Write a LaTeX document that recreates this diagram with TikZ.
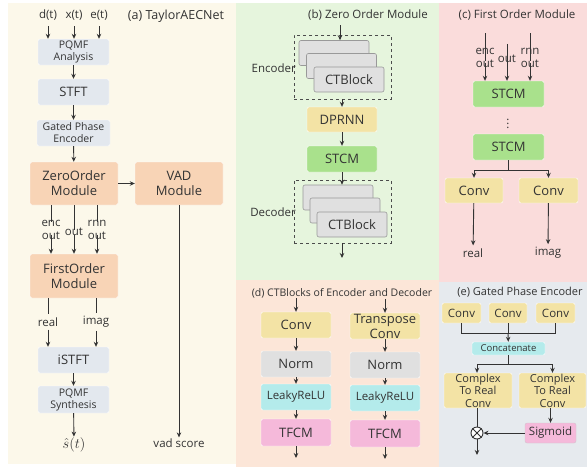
\documentclass[tikz,border=0pt]{standalone}
\usepackage{fontspec}
\setmainfont{Open Sans}
\usetikzlibrary{arrows.meta}
\definecolor{bgA}{HTML}{FCF8EA}
\definecolor{bgB}{HTML}{E6F5DD}
\definecolor{bgC}{HTML}{FADCDB}
\definecolor{bgD}{HTML}{FCE6D8}
\definecolor{bgE}{HTML}{E6EAEE}
\definecolor{boxA}{HTML}{E3E8EE}
\definecolor{boxO}{HTML}{F8D4B6}
\definecolor{boxY}{HTML}{F3E3A5}
\definecolor{boxG}{HTML}{A9E18C}
\definecolor{boxN}{HTML}{E0E0E0}
\definecolor{boxC}{HTML}{B4EBEB}
\definecolor{boxP}{HTML}{F5B9DA}
\definecolor{lin}{HTML}{333333}
\definecolor{txt}{HTML}{333333}
\tikzset{
  blk/.style={rounded corners=2pt, inner sep=0pt, align=center, text=txt, draw=white, line width=0.4pt},
  sz/.style 2 args={minimum width=#1, minimum height=#2},
  fL/.style={font=\fontsize{13}{15}\selectfont},
  fM/.style={font=\fontsize{11.5}{13}\selectfont},
  fS/.style={font=\fontsize{10.5}{12}\selectfont},
  lbl/.style={inner sep=1pt, align=center, text=txt},
  ttl/.style={inner sep=1pt, text=txt, font=\fontsize{11.5}{13}\selectfont},
  ctb/.style={blk, fL, fill=boxN, draw=black!40, line width=0.6pt, sz={70}{25}},
  grp/.style={draw=black!70, dashed, line width=0.8pt, inner sep=0pt},
}
\begin{document}
\begin{tikzpicture}[x=1pt, y=-1pt, >={Stealth[length=5pt, width=4.5pt]},
  arr/.style={->, draw=lin, line width=0.9pt},
  ln/.style={draw=lin, line width=0.9pt}]
\useasboundingbox (0,0) rectangle (587,467);
\fill[bgA] (8,3) rectangle (236,464);
\fill[bgB] (236,3) rectangle (439,280);
\fill[bgC] (439,3) rectangle (587,282);
\fill[bgD] (236,280) rectangle (439,467);
\fill[bgE] (439,282) rectangle (587,467);

% (a)
\node[lbl, fM] (dt) at (48,15) {d(t)};
\node[lbl, fM] (xt) at (74,15) {x(t)};
\node[lbl, fM] (et) at (99,15) {e(t)};
\node[ttl, font=\fontsize{12.5}{15}\selectfont] at (176,16) {(a) TaylorAECNet};
\node[blk, fS, fill=boxA, sz={71}{26}] (pqa) at (73.5,52) {PQMF\\Analysis};
\node[blk, fL, fill=boxA, sz={71}{26}] (stft) at (73.5,92) {STFT};
\node[blk, fS, fill=boxA, sz={73}{26}] (gpe) at (73.5,133) {Gated Phase\\Encoder};
\node[blk, fL, fill=boxO, sz={88}{43}] (zo) at (74,183.5) {ZeroOrder\\Module};
\node[blk, fL, fill=boxO, sz={88}{43}] (vad) at (179,183.5) {VAD\\Module};
\node[lbl, fM] (ae) at (51,230) {enc\\out};
\node[lbl, fM] (ao) at (74,232) {out};
\node[lbl, fM] (ar) at (97,230) {rnn\\out};
\node[blk, fL, fill=boxO, sz={88}{44}] (fo) at (74,276) {FirstOrder\\Module};
\node[lbl, fM] (re) at (48,322) {real};
\node[lbl, fM] (im) at (96,322) {imag};
\node[blk, fL, fill=boxA, sz={71}{26}] (istft) at (73.5,360) {iSTFT};
\node[blk, fS, fill=boxA, sz={71}{27}] (pqs) at (73.5,399.5) {PQMF\\Synthesis};
\node[lbl, font=\fontsize{14}{16}\selectfont] (sh) at (74,445) {$\hat{s}(t)$};
\node[lbl, fM] (vs) at (179,443) {vad score};
\draw[arr, shorten <=5pt] (dt.south) -- (dt.south |- pqa.north);
\draw[arr, shorten <=5pt] (xt.south) -- (xt.south |- pqa.north);
\draw[arr, shorten <=5pt] (et.south) -- (et.south |- pqa.north);
\draw[arr] (pqa) -- (stft);
\draw[arr] (stft) -- (gpe);
\draw[arr] (gpe) -- (zo);
\draw[arr] (zo) -- (vad);
\draw[ln, shorten >=-3pt] (zo.south -| ae) -- (ae.north);
\draw[ln, shorten >=-3pt] (zo.south -| ao) -- (ao.north);
\draw[ln, shorten >=-3pt] (zo.south -| ar) -- (ar.north);
\draw[arr, shorten <=-6pt] (ae.south) -- (ae.south |- fo.north);
\draw[arr, shorten <=-2pt] (ao.south) -- (ao.south |- fo.north);
\draw[arr, shorten <=-6pt] (ar.south) -- (ar.south |- fo.north);
\draw[ln, shorten >=2pt] (fo.south -| re) -- (re.north);
\draw[ln, shorten >=2pt] (fo.south -| im) -- (im.north);
\draw[arr, shorten <=2pt] (re.south) -- (re.south |- istft.north);
\draw[arr, shorten <=2pt] (im.south) -- (im.south |- istft.north);
\draw[arr] (istft) -- (pqs);
\draw[arr] (pqs) -- (sh);
\draw[arr] (vad) -- (vs);

% (b)
\node[ttl] at (368,15) {(b) Zero Order Module};
\node[grp, sz={97}{64}] (encg) at (342.5,67) {};
\node[ctb] (eb) at (334,53) {};
\node[ctb] (em) at (341.5,66) {};
\node[ctb] (ef) at (349,79.5) {CTBlock};
\node[lbl, fM, anchor=east] (encl) at (297,68) {Encoder};
\node[blk, fL, fill=boxY, sz={70}{25}] (dp) at (342,119.5) {DPRNN};
\node[blk, fL, fill=boxG, sz={70}{26}] (zst) at (342,159) {STCM};
\node[grp, sz={97}{63}] (decg) at (342.5,211.5) {};
\node[ctb] (db) at (338,197.5) {};
\node[ctb] (dm) at (345,210.5) {};
\node[ctb] (df) at (352,224.5) {CTBlock};
\node[lbl, fM, anchor=east] (decl) at (297,212) {Decoder};
\coordinate (zin) at (340,25);
\coordinate (zout) at (342,258);
\draw[arr] (zin) -- (zin |- eb.north);
\draw[arr] (encg.south -| dp) -- (dp.north);
\draw[arr] (dp) -- (zst);
\draw[arr] (zst) -- (zst |- db.north);
\draw[arr] (decg.south -| zout) -- (zout);

% (c)
\node[ttl] at (517,15) {(c) First Order Module};
\node[lbl, fM] (ce) at (485,58) {enc\\out};
\node[lbl, fM] (co) at (507,59) {out};
\node[lbl, fM] (cr) at (530,58) {rnn\\out};
\node[blk, fL, fill=boxG, sz={71}{26}] (cs1) at (508.5,94) {STCM};
\node[lbl, fM] (cdots) at (508,121) {$\vdots$};
\node[blk, fL, fill=boxG, sz={71}{26}] (cs2) at (508.5,147) {STCM};
\node[blk, fL, fill=boxY, sz={58}{25}] (cc1) at (474,190.5) {Conv};
\node[blk, fL, fill=boxY, sz={59}{25}] (cc2) at (548.5,190.5) {Conv};
\node[lbl, fM] (cre) at (473,253) {real};
\node[lbl, fM] (cim) at (548,253) {imag};
\coordinate (csplit) at (508,170);
\draw[ln, shorten <=-14pt, shorten >=-3pt] (ce.north) -- (ce.north |- ce.center);
\draw[ln, shorten <=-10pt, shorten >=-3pt] (co.north) -- (co.north |- co.center);
\draw[ln, shorten <=-14pt, shorten >=-3pt] (cr.north) -- (cr.north |- cr.center);
\draw[arr, shorten <=-6pt] (ce.south) -- (ce.south |- cs1.north);
\draw[arr, shorten <=-2pt] (co.south) -- (co.south |- cs1.north);
\draw[arr, shorten <=-6pt] (cr.south) -- (cr.south |- cs1.north);
\draw[ln] (cs2.south -| csplit) -- (csplit);
\draw[arr] (csplit) -| (cc1.north);
\draw[arr] (csplit) -| (cc2.north);
\draw[arr, shorten >=2pt] (cc1) -- (cre);
\draw[arr, shorten >=2pt] (cc2) -- (cim);

% (d)
\node[ttl, font=\fontsize{10.5}{12}\selectfont] at (342,293) {(d) CTBlocks of Encoder and Decoder};
\node[blk, fL, fill=boxY, sz={70}{26}] (dc1) at (296,325) {Conv};
\node[blk, fL, fill=boxN, sz={70}{26}] (dn1) at (296,364) {Norm};
\node[blk, fM, fill=boxC, sz={70}{26}] (dl1) at (296,397) {LeakyReLU};
\node[blk, fL, fill=boxP, sz={70}{27}] (dt1) at (296,432.5) {TFCM};
\node[blk, fL, fill=boxY, sz={70}{26}] (dc2) at (385,326) {Transpose\\Conv};
\node[blk, fL, fill=boxN, sz={70}{26}] (dn2) at (385,365) {Norm};
\node[blk, fM, fill=boxC, sz={70}{26}] (dl2) at (385,398) {LeakyReLU};
\node[blk, fL, fill=boxP, sz={70}{27}] (dt2) at (385,433.5) {TFCM};
\coordinate (din1) at (296,298);
\coordinate (din2) at (385,299);
\coordinate (dout1) at (296,458);
\coordinate (dout2) at (385,459);
\draw[arr] (din1) -- (dc1);
\draw[arr] (dc1) -- (dn1);
\draw[arr] (dn1) -- (dl1);
\draw[arr] (dl1) -- (dt1);
\draw[arr] (dt1) -- (dout1);
\draw[arr] (din2) -- (dc2);
\draw[arr] (dc2) -- (dn2);
\draw[arr] (dn2) -- (dl2);
\draw[arr] (dl2) -- (dt2);
\draw[arr] (dt2) -- (dout2);

% (e)
\node[ttl, font=\fontsize{11}{13}\selectfont] at (520,292) {(e) Gated Phase Encoder};
\node[blk, fM, fill=boxY, sz={39}{20}] (ec1) at (461.5,313) {Conv};
\node[blk, fM, fill=boxY, sz={38}{20}] (ec2) at (508,313) {Conv};
\node[blk, fM, fill=boxY, sz={39}{20}] (ec3) at (555.5,313) {Conv};
\node[blk, font=\fontsize{9.5}{10}\selectfont, fill=boxC, sz={73}{13}] (ecat) at (508.5,348.5) {Concatenate};
\node[blk, font=\fontsize{11}{12.5}\selectfont, fill=boxY, sz={68}{35}] (ecr1) at (478,390.5) {Complex\\To Real\\Conv};
\node[blk, font=\fontsize{11}{12.5}\selectfont, fill=boxY, sz={67}{35}] (ecr2) at (552.5,390.5) {Complex\\To Real\\Conv};
\node[circle, draw=lin, fill=white, line width=0.9pt, minimum size=12pt, inner sep=0pt] (emul) at (477,433) {};
\node[blk, fM, fill=boxP, draw=boxP!60!black!40, sz={51}{20}] (esig) at (550.5,433) {Sigmoid};
\coordinate (ejoin) at (508,333);
\coordinate (esplit) at (508,364);
\coordinate (eout) at (477,455);
\draw[ln] (ec1.south) |- (ejoin);
\draw[ln] (ec3.south) |- (ejoin);
\draw[ln] (ec2.south) -- (ejoin);
\draw[arr] (ejoin) -- (ecat);
\draw[ln] (ecat.south -| esplit) -- (esplit);
\draw[arr] (esplit) -| (ecr1.north -| emul);
\draw[arr] (esplit) -| (ecr2.north);
\draw[ln] (ecr1.south -| emul) -- (emul);
\draw[arr] (ecr2.south -| esig) -- (esig);
\draw[arr] (esig) -- (emul);
\draw[ln] (emul.north west) -- (emul.south east);
\draw[ln] (emul.north east) -- (emul.south west);
\draw[arr] (emul) -- (eout);
\end{tikzpicture}
\end{document}
